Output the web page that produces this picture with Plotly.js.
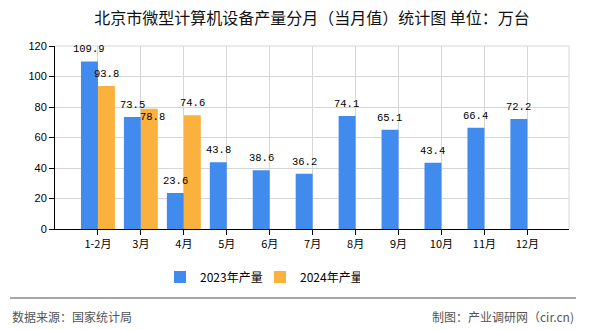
<!DOCTYPE html>
<html><head><meta charset="utf-8">
<script src="https://cdn.plot.ly/plotly-3.0.1.min.js"></script>
<style>html,body{margin:0;padding:0;background:#fff}#c{width:590px;height:330px}</style>
</head><body><div id="c"></div>
<script>
const categories = ["1-2月","3月","4月","5月","6月","7月","8月","9月","10月","11月","12月"];
const values2023 = [109.9,73.5,23.6,43.8,38.6,36.2,74.1,65.1,43.4,66.4,72.2];
const values2024 = [93.8,78.8,74.6,null,null,null,null,null,null,null,null];
const seriesNames = ["2023年产量","2024年产量"];
const yTicks = [0,20,40,60,80,100,120];

const cjk = '"Noto Sans CJK SC", "Noto Sans", sans-serif';
const lblFont = {family:'"Liberation Mono", "DejaVu Sans Mono", monospace', size:10.5, color:'#000'};

const traces = [
  {type:'bar', name:seriesNames[0], x:categories, y:values2023, marker:{color:'#428BEE'}, hoverinfo:'none'},
  {type:'bar', name:seriesNames[1], x:categories, y:values2024, marker:{color:'#FBB13E'}, hoverinfo:'none'}
];

// value labels, drawn on top of all bars
const labelAnns = [];
const half = 8.6;
categories.forEach((c, i) => {
  const a = values2023[i], b = values2024[i];
  if (a != null) labelAnns.push({x:c, y:a, xref:'x', yref:'y', text:a.toFixed(1), showarrow:false,
    xshift: -half, yshift:12, yanchor:'middle', font:lblFont});
  if (b != null) {
    const clash = a != null && Math.abs(a - b) < 8;
    labelAnns.push({x:c, y:b, xref:'x', yref:'y', text:b.toFixed(1), showarrow:false,
      xshift: half + (clash ? 3 : 0), yshift: clash ? -8 : 12, yanchor:'middle', font:lblFont});
  }
});

const layout = {
  width:590, height:330,
  margin:{l:55, r:21, t:46, b:101},
  paper_bgcolor:'#fff', plot_bgcolor:'#fff',
  barmode:'group', bargap:0.21, bargroupgap:0,
  showlegend:true,
  title:{text:'北京市微型计算机设备产量分月（当月值）统计图 单位：万台', font:{family:cjk, size:16, color:'#111'},
         x:0.5, xanchor:'center', y:1-18/330, yanchor:'middle', xref:'paper'},
  xaxis:{type:'category', range:[-1, 10.97], showgrid:true, gridcolor:'#d6d6d6', gridwidth:1,
         showline:true, linecolor:'#000', linewidth:1, ticks:'outside', ticklen:5, tickcolor:'#000',
         tickfont:{family:cjk, size:11, color:'#000'}, zeroline:false, fixedrange:true, mirror:false},
  yaxis:{range:[0,120], tickvals:yTicks, showgrid:true, gridcolor:'#d6d6d6', gridwidth:1,
         showline:true, linecolor:'#000', linewidth:1, ticks:'outside', ticklen:5, tickcolor:'#000',
         tickfont:{family:'"Liberation Sans", Arial, sans-serif', size:11, color:'#000'}, zeroline:false, fixedrange:true},
  legend:{orientation:'h', x:(160-55)/514, xanchor:'left', y:(229-277)/183, yanchor:'middle',
          font:{family:cjk, size:12, color:'#000'}, itemwidth:30, traceorder:'normal', entrywidth:55},
  shapes:[
    {type:'line', xref:'paper', yref:'paper', x0:(10-55)/514, x1:(576-55)/514, y0:(229-298)/183, y1:(229-298)/183,
     line:{color:'#888', width:1.5}},
    {type:'line', xref:'paper', yref:'paper', x0:1, x1:1, y0:0, y1:1, line:{color:'#d6d6d6', width:1}},
    {type:'line', xref:'paper', yref:'paper', x0:0, x1:1, y0:1, y1:1, line:{color:'#d6d6d6', width:1}}
  ],
  annotations: labelAnns.concat([
    {text:'数据来源：国家统计局', xref:'paper', yref:'paper', x:(10-55)/514, xanchor:'left', y:(229-316)/183, yanchor:'middle',
     showarrow:false, font:{family:cjk, size:12, color:'#555'}},
    {text:'制图：产业调研网（cir.cn)', xref:'paper', yref:'paper', x:(576-55)/514, xanchor:'right', y:(229-316)/183, yanchor:'middle',
     showarrow:false, font:{family:cjk, size:12, color:'#555'}}
  ])
};
Plotly.newPlot('c', traces, layout, {displayModeBar:false, staticPlot:true});
</script></body></html>
